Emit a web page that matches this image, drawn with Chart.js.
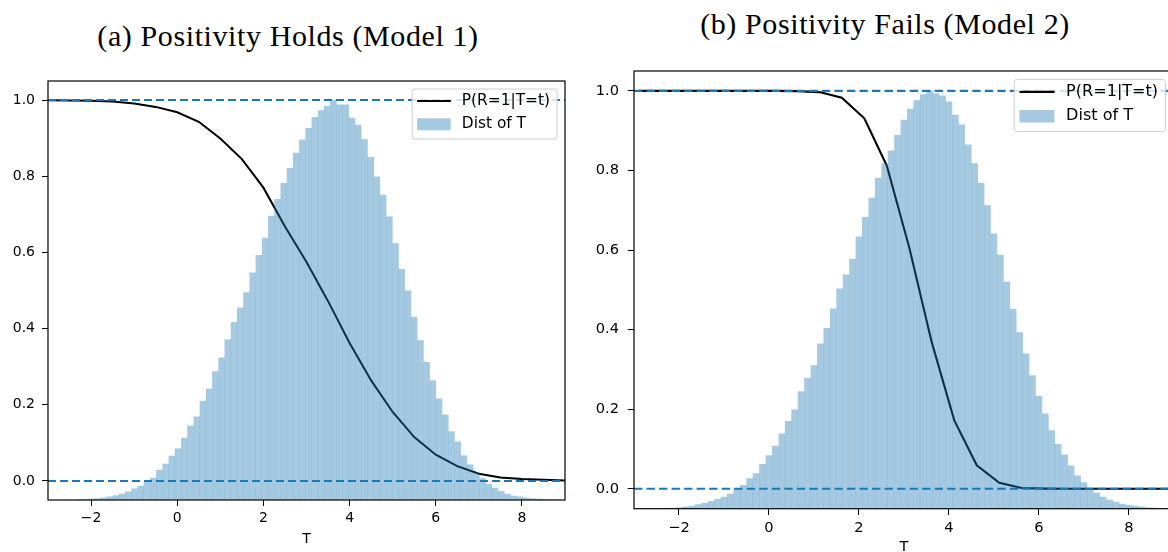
<!DOCTYPE html>
<html>
<head>
<meta charset="utf-8">
<script src="https://cdn.jsdelivr.net/npm/chart.js@4.4.1/dist/chart.umd.min.js"></script>
<style>
  html, body { margin: 0; padding: 0; background: #fff; width: 1168px; height: 552px; overflow: hidden; }
  .panel { position: absolute; top: 0; }
  .ttl { position: absolute; font-family: "Liberation Serif", serif; font-size: 30px; line-height: 30px;
         letter-spacing: 0.6px; white-space: nowrap; color: #000; transform: translateX(-50%); }
</style>
</head>
<body>
<div class="ttl" style="left:288px; top:21px">(a) Positivity Holds (Model 1)</div>
<div class="ttl" style="left:885px; top:9px">(b) Positivity Fails (Model 2)</div>
<div class="panel" style="left:0; width:600px; height:552px"><canvas id="chartA"></canvas></div>
<div class="panel" style="left:590px; width:600px; height:560px"><canvas id="chartB"></canvas></div>

<script>
// axes
const xMin = -3, xMax = 9, yMin = -0.05, yMax = 1.05;
const xTicks = [-2, 0, 2, 4, 6, 8];
const yTicks = [0, 0.2, 0.4, 0.6, 0.8, 1.0];
const refLevels = [0, 1];

// model 1: P(R=1|T=t) and histogram of T (heights scaled so peak = 1)
const gridA = [-3, -2.5, -2, -1.5, -1, -0.5, 0, 0.5, 1, 1.5, 2, 2.5, 3, 3.5, 4, 4.5, 5, 5.5, 6, 6.5, 7, 7.5, 8, 8.5, 9];
const probA = [0.9995, 0.999, 0.998, 0.996, 0.991, 0.982, 0.968, 0.943, 0.899, 0.845, 0.770, 0.668, 0.575,
               0.472, 0.362, 0.264, 0.181, 0.115, 0.069, 0.039, 0.019, 0.009, 0.005, 0.003, 0.001];
const binStartA = -2.363, binWidthA = 0.1443;
const histA = [-0.049, -0.048, -0.047, -0.046, -0.044, -0.041, -0.038, -0.034, -0.028, -0.020, -0.013, -0.002,
  0.008, 0.029, 0.045, 0.066, 0.085, 0.113, 0.145, 0.169, 0.210, 0.242, 0.288, 0.324, 0.371,
  0.417, 0.455, 0.495, 0.547, 0.593, 0.638, 0.696, 0.740, 0.782, 0.821, 0.861, 0.896, 0.926,
  0.955, 0.973, 0.985, 1.000, 0.988, 0.988, 0.953, 0.935, 0.897, 0.850, 0.799, 0.751, 0.694,
  0.624, 0.556, 0.500, 0.431, 0.369, 0.312, 0.264, 0.216, 0.174, 0.130, 0.103, 0.067, 0.043,
  0.023, 0.007, -0.008, -0.018, -0.027, -0.034, -0.039, -0.041, -0.044, -0.046, -0.047, -0.048, -0.049, -0.049, -0.050];

// model 2
const gridB = [-2.88, -2.38, -1.88, -1.38, -0.88, -0.38, 0.12, 0.62, 1.12, 1.62, 2.12, 2.62, 3.12, 3.62, 4.12,
               4.62, 5.12, 5.62, 6.12, 6.62, 7.12, 7.62, 8.12, 8.62, 9.12];
const probB = [1, 1, 1, 1, 1, 1, 1, 0.9995, 0.997, 0.983, 0.931, 0.812, 0.606, 0.368, 0.172,
               0.059, 0.015, 0.002, 0.0005, 0, 0, 0, 0, 0, 0];
const binStartB = -2.358, binWidthB = 0.1429;
const histB = [-0.049, -0.048, -0.047, -0.045, -0.043, -0.039, -0.036, -0.031, -0.026, -0.020, -0.012, 0.000,
  0.009, 0.026, 0.039, 0.062, 0.084, 0.108, 0.139, 0.170, 0.199, 0.245, 0.278, 0.310, 0.365,
  0.404, 0.453, 0.503, 0.538, 0.578, 0.634, 0.683, 0.731, 0.781, 0.818, 0.850, 0.889, 0.927,
  0.955, 0.976, 0.991, 1.000, 0.994, 0.988, 0.973, 0.940, 0.915, 0.865, 0.818, 0.769, 0.712,
  0.641, 0.588, 0.520, 0.452, 0.393, 0.340, 0.285, 0.233, 0.189, 0.147, 0.112, 0.086, 0.058,
  0.033, 0.016, 0.000, -0.010, -0.020, -0.028, -0.033, -0.038, -0.041, -0.043, -0.045, -0.047, -0.048, -0.049, -0.049, -0.050];

const BLUE = '#1f77b4', BLUE_A = 'rgba(31,119,180,0.4)';

// axes box (matplotlib spines)
const frame = {
  id: 'frame',
  afterDatasetsDraw(chart) {
    const {ctx, chartArea: a} = chart;
    ctx.save();
    ctx.strokeStyle = '#000';
    ctx.lineWidth = 1.2;
    ctx.strokeRect(a.left, a.top, a.right - a.left, a.bottom - a.top);
    ctx.restore();
  }
};

// matplotlib-style legend box in the upper right of the axes
const boxLegend = {
  id: 'boxLegend',
  afterDraw(chart, args, o) {
    const {ctx, chartArea: a} = chart, s = o.s;
    const items = chart.data.datasets.filter(d => d.legendKind);
    ctx.save();
    ctx.font = (15.4 * s) + 'px "DejaVu Sans"';
    const tw = Math.max(...items.map(d => ctx.measureText(d.label).width));
    const w = 49.7 * s + tw + 7 * s, h = 50 * s;
    const x = a.right - 8 * s - w, y = a.top + 8 * s, r = 3 * s;
    ctx.beginPath();
    ctx.moveTo(x + r, y);
    ctx.arcTo(x + w, y, x + w, y + h, r);
    ctx.arcTo(x + w, y + h, x, y + h, r);
    ctx.arcTo(x, y + h, x, y, r);
    ctx.arcTo(x, y, x + w, y, r);
    ctx.closePath();
    ctx.fillStyle = 'rgba(255,255,255,0.8)';
    ctx.fill();
    ctx.strokeStyle = '#cccccc';
    ctx.lineWidth = 1;
    ctx.stroke();
    items.forEach((d, k) => {
      const cy = y + (12 + 23.3 * k) * s;
      if (d.legendKind === 'line') {
        ctx.strokeStyle = '#000';
        ctx.lineWidth = 2 * s;
        ctx.beginPath();
        ctx.moveTo(x + 5 * s, cy);
        ctx.lineTo(x + 38.7 * s, cy);
        ctx.stroke();
      } else {
        ctx.fillStyle = BLUE_A;
        ctx.fillRect(x + 5 * s, cy - 6 * s, 33.5 * s, 12 * s);
      }
      ctx.fillStyle = '#000';
      ctx.textBaseline = 'middle';
      ctx.fillText(d.label, x + 49.7 * s, cy);
    });
    ctx.restore();
  }
};

function panel(id, grid, prob, binStart, binWidth, hist, g) {
  const font = n => ({family: 'DejaVu Sans', size: n * g.s});
  const bins = hist.map((v, k) => ({x: binStart + (k + 0.5) * binWidth, y: v}));
  const refs = refLevels.map(v => ({
    type: 'line', label: 'ref', data: [{x: xMin, y: v}, {x: xMax, y: v}],
    borderColor: BLUE, borderWidth: 2 * g.s, borderDash: [8 * g.s, 4 * g.s], pointRadius: 0, order: 0
  }));
  return new Chart(document.getElementById(id), {
    type: 'bar',
    data: {
      datasets: [
        {type: 'line', label: 'P(R=1|T=t)', legendKind: 'line', data: grid.map((t, k) => ({x: t, y: prob[k]})),
         borderColor: '#000', borderWidth: 2 * g.s, pointRadius: 0, tension: 0, order: 2},
        {type: 'bar', label: 'Dist of T', legendKind: 'patch', data: bins, backgroundColor: BLUE_A,
         borderWidth: 0, inflateAmount: 0.12, base: yMin, barPercentage: 1, categoryPercentage: 1, order: 1},
        ...refs
      ]
    },
    options: {
      responsive: true, maintainAspectRatio: false, animation: false,
      layout: {padding: {top: g.top, right: g.right, left: 0, bottom: 0}},
      plugins: {legend: {display: false}, tooltip: {enabled: false}, boxLegend: {s: g.s}},
      scales: {
        x: {
          type: 'linear', min: xMin, max: xMax, offset: false,
          afterBuildTicks: sc => { sc.ticks = xTicks.map(v => ({value: v})); },
          afterFit: sc => { sc.height = g.xAxisH; },
          grid: {drawOnChartArea: false, offset: false, tickLength: 6 * g.s, tickColor: '#000'},
          border: {display: false},
          ticks: {font: font(14), color: '#000', padding: 4 * g.s, autoSkip: false, maxRotation: 0,
                  callback: v => String(v).replace('-', '\u2212')},
          title: {display: true, text: 'T', font: font(14), color: '#000', padding: {top: 0, bottom: g.tPad}}
        },
        y: {
          min: yMin, max: yMax,
          afterBuildTicks: sc => { sc.ticks = yTicks.map(v => ({value: v})); },
          afterFit: sc => { sc.width = g.yAxisW; },
          grid: {drawOnChartArea: false, tickLength: 6 * g.s, tickColor: '#000'},
          border: {display: false},
          ticks: {font: font(14), color: '#000', padding: g.yPad, callback: v => v.toFixed(1)}
        }
      }
    },
    plugins: [frame, boxLegend]
  });
}

panel('chartA', gridA, probA, binStartA, binWidthA, histA,
      {s: 1, top: 81, right: 35, xAxisH: 52, yAxisW: 48, yPad: 7, tPad: 4.6});
panel('chartB', gridB, probB, binStartB, binWidthB, histB,
      {s: 1.044, top: 71, right: 16.2, xAxisH: 51.3, yAxisW: 44, yPad: 8.7, tPad: 4.2});
</script>
</body>
</html>
